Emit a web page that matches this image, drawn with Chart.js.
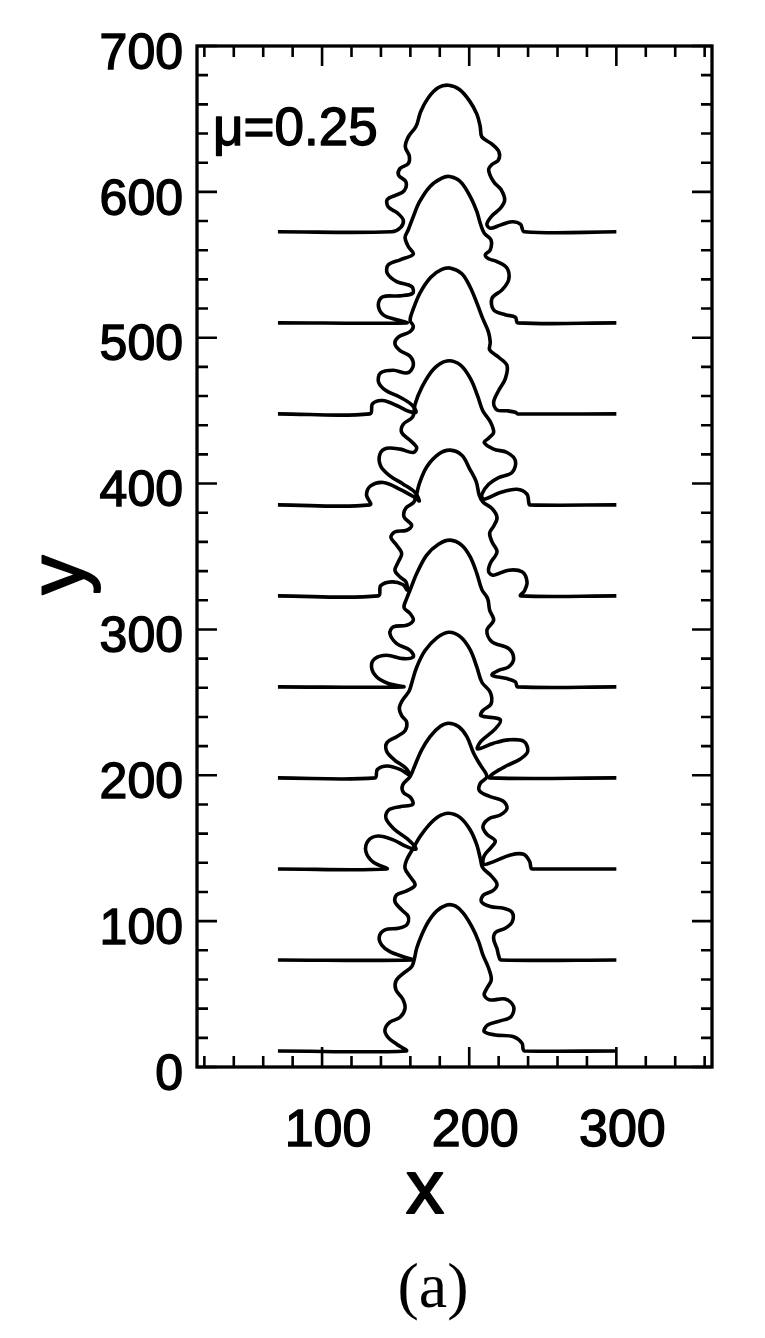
<!DOCTYPE html>
<html>
<head>
<meta charset="utf-8">
<title>Fingering fronts, mu = 0.25</title>
<script src="https://cdn.jsdelivr.net/npm/chart.js@4.4.1/dist/chart.umd.min.js"></script>
<style>
  html, body { margin: 0; padding: 0; background: #fff; }
  #wrap { position: relative; width: 765px; height: 1338px; }
</style>
</head>
<body>
<div id="wrap"><canvas id="chart" width="765" height="1338"></canvas></div>
<script>
/* ── Data: one front per time step, [x, y] in plot units ── */
const front1 = [[70,11],[157,11],[150.7,15.6],[145,20.1],[142.7,25.4],[146.1,30.7],[153,34.1],[156.4,40.3],[154.8,46.6],[150.2,52.8],[150.2,59],[155.2,64.2],[160.9,68.8],[162.7,74.1],[164.3,81.4],[167.7,90.5],[172.3,99.7],[178,107],[184.8,111.1],[190.5,110.4],[196.1,105.4],[201.8,96.2],[206.4,86],[209.3,76.8],[213.2,67.7],[215,59.7],[212,54],[210.2,49.4],[214.3,46],[224.5,46.6],[230.2,41.4],[228.4,34.5],[221.1,31.6],[212.5,28.8],[210.2,24.3],[217.7,22],[230.2,20.8],[235.9,16.3],[236.6,12.4],[237.5,11],[300,11]];
const front2 = [[70,73.4],[161,73.4],[155.2,75.7],[146.1,79.1],[140.5,83.7],[138.9,89.4],[142.7,94],[151.8,95.1],[157.5,97.4],[158.6,103.1],[154.1,107.7],[149.5,113.4],[150.7,118],[157.5,120.7],[163.2,124.8],[159.8,130.5],[156.4,136.2],[157.5,142],[162,150],[166.6,158],[172.3,165.5],[179.1,171.7],[185.9,174],[193.9,171],[200.7,162.5],[205.2,152.2],[207.5,143.1],[209.1,136.7],[214.8,131.2],[218.9,125.3],[216.1,120.9],[209.8,118],[208.2,113.4],[214.3,110],[223.4,108.8],[229.1,106.1],[229.3,99.7],[224.5,95.1],[218,92.4],[216.6,87.8],[218.9,81],[220.2,75.7],[221.6,73.4],[300,73.4]];
const front3 = [[70,135.8],[143.9,135.8],[134.8,140.4],[129.8,147.7],[131.4,155.2],[138.2,158.4],[148.4,155.7],[157.5,151.1],[163.9,149.5],[158,156.4],[148.9,163.2],[143.4,170.5],[145,176],[153,178.5],[161.6,180.1],[160.2,184.7],[155.2,188.4],[154.8,193.4],[159.8,199.1],[163.2,207.1],[167.7,217.4],[173.4,226.5],[180.2,233.4],[185.9,235.7],[192.7,233.4],[198.4,226.5],[203,215.1],[207.5,207.1],[212,199.1],[207.5,194.5],[207,189.3],[214.3,185.4],[223,182.4],[225.7,177.4],[221.1,172.8],[213.2,170.1],[209.3,164.8],[212,159.6],[217.7,155],[214.8,150.4],[210.2,144.9],[209.8,139],[216.6,140.8],[228,145.4],[237,145.9],[241.1,140.8],[242,136.3],[243,135.8],[300,135.8]];
const front4 = [[70,198.2],[135.9,198.2],[137.5,203.9],[144.3,206.4],[153.4,203.9],[159.8,199.8],[157,204.8],[148.9,210.8],[143.9,216.5],[144.1,222.4],[150.7,226.5],[156.4,230.6],[157.5,236.4],[154.1,240.9],[152.5,246.2],[154.8,251.7],[159.1,257.6],[161.1,263.8],[164.3,274.1],[170,285.5],[178,294.2],[185.9,298.1],[193.9,295.1],[200.7,286],[205.2,274.1],[208.6,263.8],[214.3,256.9],[214.8,248.9],[209.3,244.4],[208,240.9],[221.1,238.2],[217.7,231.8],[208,223.3],[205.7,218.1],[216.6,222],[226.8,224.3],[237,223.3],[239.8,216.5],[234.8,211.2],[225.7,206.7],[216.6,201.4],[213.9,198.2],[300,198.2]];
const front5 = [[70,260.6],[155.2,260.6],[145,262.9],[137,267.5],[133.6,274.3],[135.9,280],[143.9,282.3],[155.2,280],[162,281.2],[159.8,285.7],[150.7,290.3],[146.1,297.2],[148.4,301.7],[157.5,302.9],[162,306.3],[159.8,310.9],[155.7,315],[157.5,321.2],[160.2,328],[164.3,338.3],[171.1,350.9],[179.1,358.4],[187,361.2],[195,357.7],[200.7,349.7],[205.2,338.3],[208.6,327.3],[212.5,321.2],[213.9,313.2],[216.6,306.3],[212,299.4],[215.5,291.4],[226.8,286.9],[230.2,280],[226.8,274.3],[220,272],[215.5,268.6],[225.7,266.3],[231.4,264],[233,260.6],[300,260.6]];
const front6 = [[70,323],[138.2,323],[139.8,329.9],[147.3,332.6],[154.8,330.8],[158,326.9],[157,332.6],[153,336],[149.5,340.6],[151.8,346.3],[154.1,352],[150.7,357.7],[146.8,363],[149.5,366.9],[157.5,368],[160.9,371.4],[155.7,377.2],[157,383.3],[162.5,387.4],[166.1,400],[171.1,411.4],[179.1,420.1],[187,422.9],[195,419.4],[200.2,410.3],[204.8,401.2],[206.8,392],[209.3,387.4],[215.5,382.9],[218.9,376.7],[216.6,370.8],[213.9,366.2],[215.5,360],[218.9,353.2],[214.3,345.2],[213.2,339.5],[216.6,337.2],[226.8,340.6],[235.9,339.5],[239.3,332.6],[237.5,326.4],[235,323],[300,323]];
const front7 = [[70,385.4],[132.5,385.4],[130.2,392.3],[133,398.4],[141.6,400.7],[153,396.1],[163.2,390.4],[166.1,388.1],[163.2,393.9],[155.2,399.6],[146.1,405.3],[139.8,412.1],[139.3,420.1],[143.9,424.2],[153,423.6],[162,421.3],[164.3,424.7],[159.8,429.7],[154.1,435],[155.2,440.7],[161.6,445.7],[163.2,454.4],[167.7,465.8],[175.7,478.4],[184.8,484.1],[193.9,481.4],[201.1,471.5],[205.7,460.1],[209.3,449.8],[214.3,442.5],[216.6,435],[213.2,431.1],[210.2,428.1],[216.6,423.6],[225.7,421.3],[231.4,415.6],[229.1,407.6],[220,404.1],[213.2,399.6],[208.6,392.7],[209.8,389.3],[221.1,393.9],[232.5,396.1],[239.3,392.7],[240.5,387],[241.1,385.4],[300,385.4]];
const front8 = [[70,447.8],[132.5,447.8],[134.3,454.7],[141.1,456.9],[150.7,453.5],[159.3,449.4],[163.9,448.9],[160.9,454],[153,459.2],[143.4,463.8],[138.4,469.5],[139.8,475.9],[148.4,477.7],[158,475.9],[162,480.9],[159.8,487.3],[153,491.2],[149.5,495.8],[151.8,500.4],[159.8,504.2],[162,507.9],[159.8,511.8],[161.6,518.6],[166.6,530.8],[173.9,541.5],[181.4,546.8],[187.5,547.7],[195,543.8],[200.7,534.6],[205.7,522.5],[209.3,512.9],[213,504.2],[214.3,496.9],[213.9,491.7],[220,486.6],[225.7,480.9],[224.5,471.8],[220,463.8],[216.6,455.8],[218.9,450.5],[225.7,449.9],[231.4,448.9],[233,447.8],[300,447.8]];
const front9 = [[70,510.2],[157.5,510.2],[150.7,512.3],[141.6,515.7],[138.2,522.5],[141.1,528],[153,528.7],[161.6,530.5],[160.9,535.1],[150.7,538.5],[144.3,544.2],[145,550],[153,553.4],[162,557.3],[158.6,562.5],[156.4,568.7],[158.6,574],[161.6,582],[166.1,592.9],[173.4,603.7],[181.4,609.4],[186.6,610.5],[193.9,607.1],[200.7,596.8],[205.2,586.5],[207.5,578.5],[210.2,571.7],[214.8,567.1],[214.3,560.2],[210.9,556.8],[213.2,554.1],[218.9,552.2],[225.7,547.7],[226.8,539.7],[222.3,532.8],[215.5,527.1],[216.6,519.1],[224.5,515.7],[231.4,514.1],[233,510.2],[300,510.2]];
const front10 = [[70,572.6],[147.3,572.6],[153.4,575.6],[155.2,580.6],[151.1,585.6],[145,589.7],[144.3,594.8],[150.2,597.7],[155.7,600.7],[157,606.9],[152,611.4],[153,616],[158.6,619.4],[159.3,624.5],[156.6,630.9],[158.6,637.7],[163.9,645],[167,654.9],[172.3,664.7],[179.1,671.5],[185.9,673.1],[193.4,670.2],[200.2,662.4],[205.2,653.3],[207.5,644.6],[208.6,637.7],[215.5,632.7],[220.2,627.4],[219.8,621.7],[215.5,618.8],[213.2,614.9],[216.6,606.9],[221.6,601.6],[224.1,594.3],[221.1,588.6],[215.5,583.6],[212,577.9],[214.3,575.1],[221.1,577.2],[229.1,579.5],[234.8,577.9],[237.5,572.6],[300,572.6]];

const fronts = [front1, front2, front3, front4, front5, front6, front7, front8, front9, front10];
const xTickLabels = [100, 200, 300];
const yTickLabels = [0, 100, 200, 300, 400, 500, 600, 700];
const xTitle = "x";
const yTitle = "y";
const muText = "\u03bc=0.25";
const panelText = "(a)";

const SANS = '"Liberation Sans", Arial, sans-serif';
const SERIF = '"Liberation Serif", "Times New Roman", serif';

/* ── Frame with inward ticks on all four sides ── */
const frameTicks = {
  id: "frameTicks",
  afterDatasetsDraw(chart) {
    const { ctx, chartArea: a, scales: { x, y } } = chart;
    ctx.save();
    ctx.strokeStyle = "#000";
    ctx.lineWidth = 2.6;
    ctx.beginPath();
    for (let v = Math.ceil(x.min / 20) * 20; v <= x.max; v += 20) {
      const px = x.getPixelForValue(v), len = v % 100 === 0 ? 20 : 11;
      ctx.moveTo(px, a.bottom); ctx.lineTo(px, a.bottom - len);
      ctx.moveTo(px, a.top); ctx.lineTo(px, a.top + len);
    }
    for (let v = Math.ceil(y.min / 20) * 20; v <= y.max; v += 20) {
      const py = y.getPixelForValue(v), len = v % 100 === 0 ? 20 : 11;
      ctx.moveTo(a.left, py); ctx.lineTo(a.left + len, py);
      ctx.moveTo(a.right, py); ctx.lineTo(a.right - len, py);
    }
    ctx.stroke();
    ctx.lineWidth = 3.3;
    ctx.strokeRect(a.left, a.top, a.right - a.left, a.bottom - a.top);
    ctx.restore();
  }
};

/* ── Labels: μ, axis names, panel letter ── */
function heavyText(ctx, text, x, y, stroke) {
  ctx.fillText(text, x, y);
  if (stroke) { ctx.lineWidth = stroke; ctx.strokeText(text, x, y); }
}
const labels = {
  id: "labels",
  afterDraw(chart) {
    const { ctx, chartArea: a } = chart;
    ctx.save();
    ctx.fillStyle = "#000";
    ctx.strokeStyle = "#000";
    ctx.lineJoin = "round";
    ctx.textBaseline = "alphabetic";
    ctx.font = "53px " + SANS;
    heavyText(ctx, muText, a.left + 16, a.top + 99, 1.4);

    ctx.textAlign = "center";
    ctx.textBaseline = "middle";
    ctx.font = "76px " + SANS;
    heavyText(ctx, xTitle, 425, 1192, 2);

    ctx.font = "64px " + SERIF;
    heavyText(ctx, panelText, 433, 1290, 0);

    ctx.translate(62, 575);
    ctx.rotate(-Math.PI / 2);
    ctx.font = "78px " + SANS;
    heavyText(ctx, yTitle, 0, 0, 2);
    ctx.restore();
  }
};

Chart.defaults.font.family = SANS;
Chart.defaults.color = "#000";

new Chart(document.getElementById("chart"), {
  type: "scatter",
  data: {
    datasets: fronts.map((f, i) => ({
      label: "t" + (i + 1),
      data: f.map(([x, y]) => ({ x, y })),
      showLine: true,
      borderColor: "#000",
      borderWidth: 3.6,
      pointRadius: 0,
      tension: 0.35,
      fill: false
    }))
  },
  options: {
    responsive: false,
    animation: false,
    devicePixelRatio: 1,
    layout: { padding: { left: 0, top: 46, right: 53, bottom: 0 } },
    plugins: { legend: { display: false }, tooltip: { enabled: false } },
    scales: {
      x: {
        type: "linear", min: 15, max: 365,
        grid: { display: false }, border: { display: false },
        afterBuildTicks: s => { s.ticks = xTickLabels.map(v => ({ value: v })); },
        afterFit: s => { s.height = 271; },
        ticks: { font: { size: 52 }, padding: 25, labelOffset: 6, maxRotation: 0, autoSkip: false,
                 textStrokeColor: "#000", textStrokeWidth: 1.4 }
      },
      y: {
        type: "linear", min: 0, max: 700,
        grid: { display: false }, border: { display: false },
        afterBuildTicks: s => { s.ticks = yTickLabels.map(v => ({ value: v })); },
        afterFit: s => { s.width = 197; },
        ticks: { font: { size: 50 }, padding: 6, labelOffset: 9, autoSkip: false,
                 textStrokeColor: "#000", textStrokeWidth: 1.4 }
      }
    }
  },
  plugins: [frameTicks, labels]
});
</script>
</body>
</html>
